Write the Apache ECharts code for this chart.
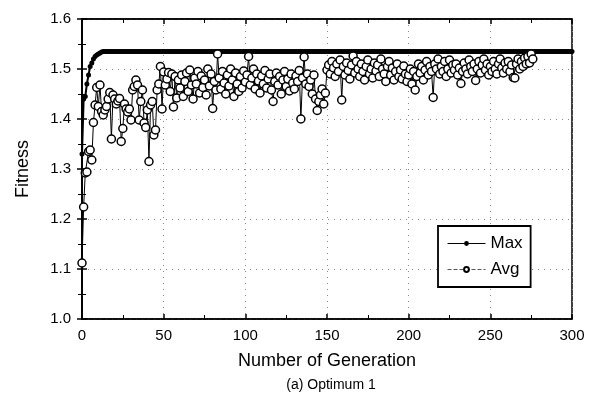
<!DOCTYPE html>
<html><head><meta charset="utf-8">
<script src="https://cdn.jsdelivr.net/npm/echarts@6/dist/echarts.min.js"></script>
<style>html,body{margin:0;padding:0;background:#fff}#c{width:596px;height:395px}</style>
</head><body><div id="c"></div>
<script>
const xTicks = [0, 50, 100, 150, 200, 250, 300];
const yTicks = [1.0, 1.1, 1.2, 1.3, 1.4, 1.5, 1.6];
// Max fitness, generation 0..300
const maxFitness = [
1.330,1.440,1.445,1.470,1.488,1.505,1.512,1.520,1.525,1.528,1.530,1.532,1.534,1.535,1.535,1.535,1.535,1.535,1.535,1.535,
1.535,1.535,1.535,1.535,1.535,1.535,1.535,1.535,1.535,1.535,1.535,1.535,1.535,1.535,1.535,1.535,1.535,1.535,1.535,1.535,
1.535,1.535,1.535,1.535,1.535,1.535,1.535,1.535,1.535,1.535,1.535,1.535,1.535,1.535,1.535,1.535,1.535,1.535,1.535,1.535,
1.535,1.535,1.535,1.535,1.535,1.535,1.535,1.535,1.535,1.535,1.535,1.535,1.535,1.535,1.535,1.535,1.535,1.535,1.535,1.535,
1.535,1.535,1.535,1.535,1.535,1.535,1.535,1.535,1.535,1.535,1.535,1.535,1.535,1.535,1.535,1.535,1.535,1.535,1.535,1.535,
1.535,1.535,1.535,1.535,1.535,1.535,1.535,1.535,1.535,1.535,1.535,1.535,1.535,1.535,1.535,1.535,1.535,1.535,1.535,1.535,
1.535,1.535,1.535,1.535,1.535,1.535,1.535,1.535,1.535,1.535,1.535,1.535,1.535,1.535,1.535,1.535,1.535,1.535,1.535,1.535,
1.535,1.535,1.535,1.535,1.535,1.535,1.535,1.535,1.535,1.535,1.535,1.535,1.535,1.535,1.535,1.535,1.535,1.535,1.535,1.535,
1.535,1.535,1.535,1.535,1.535,1.535,1.535,1.535,1.535,1.535,1.535,1.535,1.535,1.535,1.535,1.535,1.535,1.535,1.535,1.535,
1.535,1.535,1.535,1.535,1.535,1.535,1.535,1.535,1.535,1.535,1.535,1.535,1.535,1.535,1.535,1.535,1.535,1.535,1.535,1.535,
1.535,1.535,1.535,1.535,1.535,1.535,1.535,1.535,1.535,1.535,1.535,1.535,1.535,1.535,1.535,1.535,1.535,1.535,1.535,1.535,
1.535,1.535,1.535,1.535,1.535,1.535,1.535,1.535,1.535,1.535,1.535,1.535,1.535,1.535,1.535,1.535,1.535,1.535,1.535,1.535,
1.535,1.535,1.535,1.535,1.535,1.535,1.535,1.535,1.535,1.535,1.535,1.535,1.535,1.535,1.535,1.535,1.535,1.535,1.535,1.535,
1.535,1.535,1.535,1.535,1.535,1.535,1.535,1.535,1.535,1.535,1.535,1.535,1.535,1.535,1.535,1.535,1.535,1.535,1.535,1.535,
1.535,1.535,1.535,1.535,1.535,1.535,1.535,1.535,1.535,1.535,1.535,1.535,1.535,1.535,1.535,1.535,1.535,1.535,1.535,1.535,
1.535
];
// Average fitness, generation 0..276
const avgFitness = [
1.112,1.224,1.292,1.294,1.335,1.338,1.318,1.393,1.428,1.463,
1.425,1.468,1.415,1.408,1.418,1.425,1.440,1.453,1.360,1.448,
1.440,1.430,1.436,1.441,1.355,1.381,1.430,1.420,1.414,1.420,
1.398,1.458,1.465,1.478,1.468,1.398,1.435,1.458,1.392,1.383,
1.418,1.315,1.428,1.435,1.368,1.378,1.458,1.470,1.505,1.420,
1.494,1.468,1.480,1.493,1.455,1.490,1.424,1.485,1.442,1.478,
1.462,1.488,1.445,1.475,1.492,1.455,1.498,1.468,1.440,1.482,
1.470,1.495,1.452,1.486,1.463,1.478,1.448,1.500,1.466,1.490,
1.421,1.475,1.458,1.530,1.482,1.460,1.495,1.472,1.450,1.488,
1.466,1.500,1.478,1.445,1.492,1.470,1.455,1.485,1.462,1.496,
1.474,1.488,1.525,1.468,1.482,1.500,1.460,1.490,1.476,1.452,
1.486,1.470,1.497,1.462,1.480,1.490,1.458,1.435,1.475,1.492,
1.468,1.485,1.450,1.478,1.495,1.465,1.480,1.456,1.490,1.472,
1.460,1.486,1.475,1.497,1.400,1.482,1.524,1.470,1.490,1.465,
1.478,1.450,1.488,1.440,1.417,1.435,1.448,1.460,1.430,1.452,
1.498,1.508,1.490,1.515,1.502,1.485,1.510,1.495,1.518,1.438,
1.505,1.488,1.512,1.497,1.480,1.508,1.526,1.492,1.515,1.500,
1.485,1.510,1.495,1.478,1.505,1.518,1.490,1.500,1.482,1.512,
1.496,1.508,1.485,1.520,1.500,1.490,1.475,1.505,1.515,1.488,
1.502,1.478,1.495,1.510,1.485,1.498,1.480,1.506,1.490,1.475,
1.488,1.500,1.470,1.495,1.458,1.485,1.510,1.492,1.505,1.478,
1.498,1.515,1.488,1.505,1.495,1.443,1.510,1.500,1.520,1.490,
1.505,1.495,1.515,1.485,1.500,1.518,1.492,1.508,1.498,1.510,
1.488,1.502,1.471,1.495,1.512,1.500,1.490,1.518,1.505,1.495,
1.510,1.477,1.500,1.515,1.492,1.508,1.520,1.498,1.510,1.488,
1.505,1.495,1.515,1.500,1.490,1.510,1.520,1.502,1.492,1.512,
1.500,1.515,1.495,1.508,1.483,1.482,1.510,1.520,1.500,1.515,
1.505,1.522,1.510,1.525,1.512,1.530,1.520
];
const maxData = maxFitness.map((v, i) => [i, v]);
const avgData = avgFitness.map((v, i) => [i, v]);

const FONT = 'Liberation Sans, Arial, sans-serif';
const chart = echarts.init(document.getElementById('c'), null, {renderer: 'canvas'});
const gridLine = {show: true, lineStyle: {color: '#888', type: [1, 5], width: 1}};
chart.setOption({
  animation: false,
  backgroundColor: '#fff',
  grid: {left: 82, right: 24, top: 19, bottom: 76, show: true, borderColor: '#000', borderWidth: 1.5, backgroundColor: 'transparent'},
  title: {
    text: '(a) Optimum 1', left: 326, top: 373, textAlign: 'center',
    textStyle: {fontFamily: FONT, fontSize: 14, fontWeight: 'normal', color: '#000'}
  },
  legend: {
    orient: 'vertical', left: 438, top: 226,
    backgroundColor: '#fff', borderColor: '#000', borderWidth: 1.8,
    padding: [9, 8, 9, 9], itemGap: 9, itemWidth: 38, itemHeight: 6,
    textStyle: {fontFamily: FONT, fontSize: 17, color: '#000'},
    data: [
      {name: 'Max', lineStyle: {width: 1, color: '#000'}},
      {name: 'Avg', lineStyle: {type: 'dashed', color: '#555', width: 1}}
    ]
  },
  xAxis: [{
    type: 'value', min: xTicks[0], max: xTicks[xTicks.length - 1], interval: 50,
    name: 'Number of Generation', nameLocation: 'middle', nameGap: 33,
    nameTextStyle: {fontFamily: FONT, fontSize: 18, color: '#000'},
    axisLine: {show: true, lineStyle: {color: '#000', width: 1.5}},
    axisTick: {show: true, inside: true, length: 5, lineStyle: {color: '#000', width: 1.5}},
    minorTick: {show: true, splitNumber: 2, length: 4, lineStyle: {color: '#000', width: 1}},
    axisLabel: {fontFamily: FONT, fontSize: 15, color: '#000', margin: 9},
    splitLine: gridLine
  }, {
    type: 'value', position: 'top', min: xTicks[0], max: xTicks[xTicks.length - 1], interval: 50,
    axisLine: {show: true, lineStyle: {color: '#000', width: 1.5}},
    axisTick: {show: true, inside: true, length: 5, lineStyle: {color: '#000', width: 1.5}},
    minorTick: {show: true, splitNumber: 2, length: 4, lineStyle: {color: '#000', width: 1}},
    axisLabel: {show: false}, splitLine: {show: false}
  }],
  yAxis: [{
    type: 'value', min: yTicks[0], max: yTicks[yTicks.length - 1], interval: 0.1,
    name: 'Fitness', nameLocation: 'middle', nameGap: 50, nameRotate: 90,
    nameTextStyle: {fontFamily: FONT, fontSize: 18, color: '#000'},
    axisLine: {show: true, lineStyle: {color: '#000', width: 1.5}},
    axisTick: {show: true, inside: true, length: 5, lineStyle: {color: '#000', width: 1.5}},
    minorTick: {show: true, splitNumber: 2, length: 4, lineStyle: {color: '#000', width: 1}},
    axisLabel: {fontFamily: FONT, fontSize: 15, color: '#000', margin: 11, formatter: v => v.toFixed(1)},
    splitLine: gridLine
  }, {
    type: 'value', position: 'right', min: yTicks[0], max: yTicks[yTicks.length - 1], interval: 0.1,
    axisLine: {show: true, lineStyle: {color: '#000', width: 1.5}},
    axisTick: {show: true, inside: true, length: 5, lineStyle: {color: '#000', width: 1.5}},
    minorTick: {show: true, splitNumber: 2, length: 4, lineStyle: {color: '#000', width: 1}},
    axisLabel: {show: false}, splitLine: {show: false}
  }],
  series: [{
    name: 'Max', type: 'line', data: maxData, z: 3,
    symbol: 'circle', symbolSize: 5, showAllSymbol: true,
    lineStyle: {color: '#000', width: 2},
    itemStyle: {color: '#000'}
  }, {
    name: 'Avg', type: 'line', data: avgData, z: 4,
    symbol: 'circle', symbolSize: 8, showAllSymbol: true,
    lineStyle: {color: '#000', width: 1},
    itemStyle: {color: '#fff', borderColor: '#000', borderWidth: 1.5}
  }]
});
</script></body></html>
